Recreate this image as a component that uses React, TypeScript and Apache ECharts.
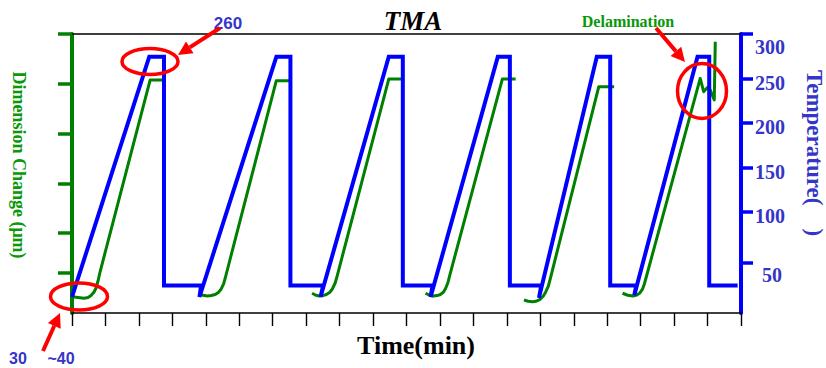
import React, { useEffect, useRef } from 'react';
import * as echarts from 'echarts';

// ---- axes ----
const timeMin = 0;
const timeMax = 200;
const timeInterval = 10;
const dimensionRange = [0, 28];
const dimensionTickValues = [4, 8.1, 13, 18, 23, 28];
const temperatureRange = [-14, 300];
const temperatureTickValues = [43, 100, 150, 200, 250, 300];
const temperatureLabelValues = [50, 100, 150, 200, 250, 300];

// ---- temperature (blue, right axis) [min, °C] ----
const temperatureData: [number, number][] = [
  [0, 4], [23.1, 274.5], [27.5, 274.5], [27.5, 17],
  [38.6, 17], [38.1, 4], [61.1, 274.5], [65.3, 274.5], [65.3, 17],
  [75.1, 17], [74.3, 4], [94.7, 274.5], [98.9, 274.5], [98.9, 17],
  [107.8, 17], [107.2, 4], [127.3, 274.5], [130.9, 274.5], [130.9, 17],
  [140.3, 17], [139.6, 3], [156.9, 274.5], [160.9, 274.5], [160.9, 17],
  [168.7, 17], [168.1, 6], [187.0, 274.5], [190.5, 274.5], [190.5, 17], [199, 17],
];

// ---- dimension change (green, left axis), one array per cycle ----
const dimCycle1: [number, number][] = [
  [0, 1.64], [2.4, 1.53], [3.59, 1.48], [4.79, 1.56], [5.69, 1.76], [6.59, 2.11], [7.19, 2.51],
  [7.78, 3.21], [8.38, 4.11], [23.35, 23.38], [27.54, 23.38],
];
const dimCycle2: [number, number][] = [
  [37.81, 1.98], [39.22, 1.78], [40.42, 1.71], [41.62, 1.75], [42.81, 1.86], [43.86, 2.09],
  [44.61, 2.41], [45.36, 2.96], [45.96, 3.71], [61.08, 23.31], [65.27, 23.31],
];
const dimCycle3: [number, number][] = [
  [71.77, 1.98], [72.9, 1.78], [73.95, 1.71], [75.0, 1.75], [76.05, 1.86], [77.1, 2.09],
  [77.84, 2.41], [78.68, 3.01], [79.34, 3.81], [94.7, 23.48], [98.89, 23.48],
];
const dimCycle4: [number, number][] = [
  [105.69, 1.98], [106.89, 1.78], [108.08, 1.71], [109.13, 1.75], [110.18, 1.86], [111.08, 2.11],
  [111.68, 2.46], [112.34, 3.01], [112.87, 3.71], [128.65, 23.48], [132.63, 23.48],
];
const dimCycle5: [number, number][] = [
  [135.12, 1.3], [136.38, 1.18], [137.63, 1.13], [138.77, 1.18], [139.82, 1.35], [140.87, 1.68],
  [141.62, 2.11], [142.37, 2.66], [142.96, 3.41], [157.49, 22.71], [162.07, 22.71],
];
const dimCycle6: [number, number][] = [
  [164.58, 1.98], [166.17, 1.78], [167.66, 1.71], [168.86, 1.81], [169.76, 2.01], [170.51, 2.36],
  [171.11, 2.91], [187.81, 23.55], [188.83, 22.21], [190.03, 22.65], [190.81, 22.38],
  [192.01, 21.38], [192.31, 27.23],
];
const dimensionCycles = [dimCycle1, dimCycle2, dimCycle3, dimCycle4, dimCycle5, dimCycle6];

const BLUE = '#0000ff';
const GREEN = '#008000';
const TEXT_GREEN = '#089808';
const TEXT_BLUE = '#3535c8';
const RED = '#ff0000';

function arrow(tail: number[], tip: number[]) {
  const dx = tip[0] - tail[0];
  const dy = tip[1] - tail[1];
  const len = Math.sqrt(dx * dx + dy * dy);
  const ux = dx / len;
  const uy = dy / len;
  const hl = 14;
  const hw = 7;
  const bx = tip[0] - ux * hl;
  const by = tip[1] - uy * hl;
  return [
    {
      type: 'line',
      shape: { x1: tail[0], y1: tail[1], x2: bx, y2: by },
      style: { stroke: RED, lineWidth: 4 },
      z: 100,
    },
    {
      type: 'polygon',
      shape: {
        points: [
          [tip[0], tip[1]],
          [bx - uy * hw, by + ux * hw],
          [bx + uy * hw, by - ux * hw],
        ],
      },
      style: { fill: RED },
      z: 100,
    },
  ];
}

export default function App() {
  const ref = useRef<HTMLDivElement>(null);

  useEffect(() => {
    if (!ref.current) return;
    const chart = echarts.init(ref.current, null, { renderer: 'svg' });

    const greenSeries = dimensionCycles.map((cycle, i) => ({
      name: 'Dimension Change ' + (i + 1),
      type: 'line',
      xAxisIndex: 0,
      yAxisIndex: 0,
      data: cycle,
      symbol: 'none',
      lineStyle: { color: GREEN, width: 3, join: 'round' },
      z: 2,
    }));

    const option: any = {
      animation: false,
      title: {
        text: 'TMA',
        left: 'center',
        top: 2,
        textStyle: {
          fontFamily: 'Liberation Serif',
          fontSize: 27,
          fontWeight: 'bold',
          fontStyle: 'italic',
          color: '#000',
        },
      },
      grid: { left: 72, right: 85, top: 34, bottom: 55 },
      xAxis: [
        {
          type: 'value',
          position: 'bottom',
          min: timeMin,
          max: timeMax,
          interval: timeInterval,
          axisLine: { show: true, onZero: false, lineStyle: { color: '#000', width: 1.6 } },
          axisTick: { show: true, inside: false, length: 13, lineStyle: { color: '#000', width: 1.4 } },
          axisLabel: { show: false },
          splitLine: { show: false },
        },
        {
          type: 'value',
          position: 'top',
          min: timeMin,
          max: timeMax,
          interval: timeInterval,
          axisLine: { show: true, onZero: false, lineStyle: { color: '#000', width: 1.6 } },
          axisTick: { show: false },
          axisLabel: { show: false },
          splitLine: { show: false },
        },
      ],
      yAxis: [
        {
          type: 'value',
          position: 'left',
          min: dimensionRange[0],
          max: dimensionRange[1],
          axisLine: { show: true, onZero: false, lineStyle: { color: GREEN, width: 4 } },
          axisTick: {
            show: true,
            inside: false,
            length: 14,
            customValues: dimensionTickValues,
            lineStyle: { color: GREEN, width: 3.5 },
          },
          axisLabel: { show: false },
          splitLine: { show: false },
        },
        {
          type: 'value',
          position: 'right',
          min: temperatureRange[0],
          max: temperatureRange[1],
          axisLine: { show: true, onZero: false, lineStyle: { color: BLUE, width: 4 } },
          axisTick: {
            show: true,
            inside: false,
            length: 12,
            customValues: temperatureTickValues,
            lineStyle: { color: BLUE, width: 3.5 },
          },
          axisLabel: {
            show: true,
            customValues: temperatureLabelValues,
            margin: 14,
            fontFamily: 'Liberation Serif',
            fontWeight: 'bold',
            fontSize: 20,
            color: TEXT_BLUE,
            formatter: (v: number) =>
              v === 300 ? `{top|${v}}` : v === 50 ? `{low|${v}}` : `{mid|${v}}`,
            rich: {
              top: { padding: [25, 0, 0, 0] },
              mid: { padding: [9, 0, 0, 0] },
              low: { padding: [38, 0, 0, 7] },
            },
          },
          splitLine: { show: false },
        },
      ],
      series: [
        ...greenSeries,
        {
          name: 'Temperature',
          type: 'line',
          xAxisIndex: 0,
          yAxisIndex: 1,
          data: temperatureData,
          symbol: 'none',
          lineStyle: { color: BLUE, width: 4, join: 'miter' },
          z: 3,
        },
      ],
      graphic: [
        {
          type: 'text',
          x: 19,
          y: 165,
          rotation: -Math.PI / 2,
          style: {
            text: 'Dimension Change (μm)',
            font: 'bold 18px "Liberation Serif"',
            fill: TEXT_GREEN,
            align: 'center',
            verticalAlign: 'middle',
          },
        },
        {
          type: 'text',
          x: 814,
          y: 153,
          rotation: -Math.PI / 2,
          style: {
            text: 'Temperature(    )',
            font: 'bold 23px "Liberation Serif"',
            fill: TEXT_BLUE,
            align: 'center',
            verticalAlign: 'middle',
          },
        },
        {
          type: 'text',
          x: 416,
          y: 345,
          style: {
            text: 'Time(min)',
            font: 'bold 26px "Liberation Serif"',
            fill: '#000',
            align: 'center',
            verticalAlign: 'middle',
          },
        },
        {
          type: 'text',
          x: 228,
          y: 23,
          style: {
            text: '260',
            font: 'bold 17px "Liberation Sans"',
            fill: TEXT_BLUE,
            align: 'center',
            verticalAlign: 'middle',
          },
        },
        {
          type: 'text',
          x: 628,
          y: 21,
          style: {
            text: 'Delamination',
            font: 'bold 16px "Liberation Serif"',
            fill: TEXT_GREEN,
            align: 'center',
            verticalAlign: 'middle',
          },
        },
        {
          type: 'text',
          x: 18,
          y: 358,
          style: {
            text: '30',
            font: 'bold 16px "Liberation Sans"',
            fill: TEXT_BLUE,
            align: 'center',
            verticalAlign: 'middle',
          },
        },
        {
          type: 'text',
          x: 61,
          y: 358,
          style: {
            text: '~40',
            font: 'bold 16px "Liberation Sans"',
            fill: TEXT_BLUE,
            align: 'center',
            verticalAlign: 'middle',
          },
        },
        {
          type: 'ellipse',
          shape: { cx: 150, cy: 61.5, rx: 28, ry: 13 },
          style: { fill: 'none', stroke: RED, lineWidth: 3.5 },
          z: 100,
        },
        {
          type: 'ellipse',
          shape: { cx: 702, cy: 91, rx: 24.5, ry: 27.5 },
          style: { fill: 'none', stroke: RED, lineWidth: 3.5 },
          z: 100,
        },
        {
          type: 'ellipse',
          shape: { cx: 79, cy: 296.5, rx: 28.5, ry: 13.5 },
          style: { fill: 'none', stroke: RED, lineWidth: 3.5 },
          z: 100,
        },
        ...arrow([220, 28], [178, 55]),
        ...arrow([656, 28], [685, 62]),
        ...arrow([43, 351], [60, 313]),
      ],
    };

    chart.setOption(option);
    return () => chart.dispose();
  }, []);

  return (
    <div
      ref={ref}
      style={{ position: 'fixed', left: 0, top: 0, width: 826, height: 368, background: '#fff' }}
    />
  );
}
